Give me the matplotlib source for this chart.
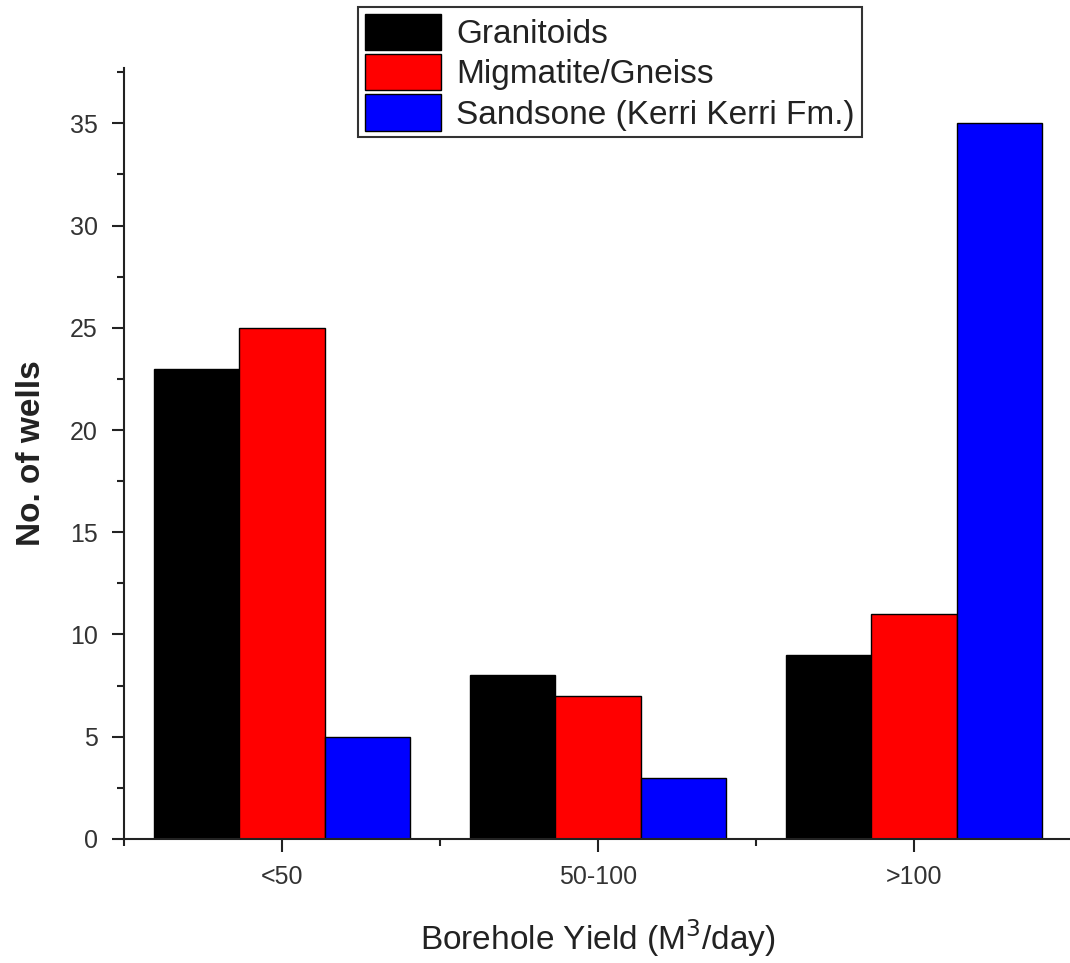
import numpy as np
import matplotlib
matplotlib.use("Agg")
import matplotlib.pyplot as plt
from matplotlib.ticker import MultipleLocator, FixedLocator

plt.rcParams['font.family'] = ['Liberation Sans', 'DejaVu Sans']

categories = ['<50', '50-100', '>100']
series_names = ['Granitoids', 'Migmatite/Gneiss', 'Sandsone (Kerri Kerri Fm.)']
granitoids = [23, 8, 9]
migmatite = [25, 7, 11]
sandstone = [5, 3, 35]
colors = ['#000000', '#ff0000', '#0000ff']

fig = plt.figure(figsize=(10.7, 9.63), dpi=100)
ax = fig.add_axes([0.1159, 0.1288, 0.8860, 0.8005])

x = np.arange(1, len(categories) + 1)
width = 0.27
handles = []
for i, (vals, name, c) in enumerate(zip([granitoids, migmatite, sandstone], series_names, colors)):
    b = ax.bar(x + (i - 1) * width, vals, width, color=c, edgecolor='black',
               linewidth=1.0, label=name)
    handles.append(b)

ax.set_xlim(0.5, 3.5)
ax.set_ylim(0, 37.7)

for s in ['top', 'right']:
    ax.spines[s].set_visible(False)
for s in ['left', 'bottom']:
    ax.spines[s].set_linewidth(1.5)
    ax.spines[s].set_color('#222222')

ax.set_xticks(x)
ax.set_xticklabels(categories)
ax.xaxis.set_minor_locator(FixedLocator([0.5, 1.5, 2.5, 3.5]))
ax.yaxis.set_major_locator(MultipleLocator(5))
ax.yaxis.set_minor_locator(MultipleLocator(2.5))

ax.tick_params(axis='both', which='major', direction='out', length=9, width=1.5,
               labelsize=18, labelcolor='#333333', color='#222222', pad=10)
ax.tick_params(axis='both', which='minor', direction='out', length=5, width=1.5,
               color='#222222')

ax.set_xlabel('Borehole Yield (M$^{3}$/day)', fontsize=24, color='#222222', labelpad=20)
ax.set_ylabel('No. of wells', fontsize=24, fontweight='bold', color='#222222', labelpad=16)

leg = fig.legend(handles=handles, labels=series_names, loc='upper left',
                 bbox_to_anchor=(358 / 1070, 1 - 7 / 963), bbox_transform=fig.transFigure,
                 fontsize=24, frameon=True, fancybox=False, edgecolor='black',
                 handlelength=2.3, handleheight=1.3, labelspacing=0.12,
                 handletextpad=0.45, borderpad=0.2, borderaxespad=0)
leg.get_frame().set_linewidth(1.5)
for t in leg.get_texts():
    t.set_color('#222222')

fig.savefig('out.png', dpi=100)
